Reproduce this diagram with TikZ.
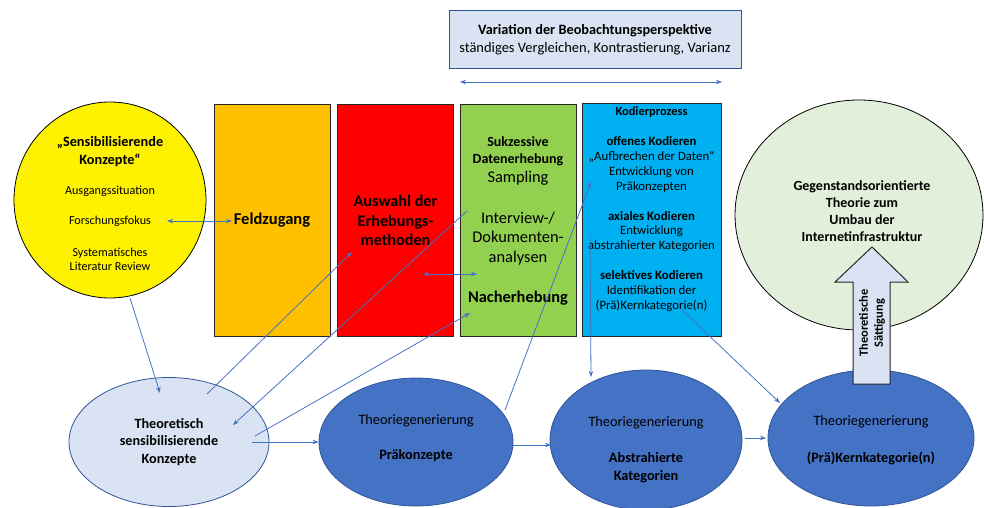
\documentclass[tikz,border=0pt]{standalone}
\usepackage{fontspec}
\setmainfont{Carlito}
\usetikzlibrary{arrows.meta,shapes.geometric,calc}

\definecolor{arrowblue}{HTML}{4472C4}
\definecolor{paleblue}{HTML}{DAE3F3}
\definecolor{darkline}{HTML}{2F5597}
\definecolor{feldorange}{HTML}{FFC000}
\definecolor{auswred}{HTML}{FF0000}
\definecolor{datengreen}{HTML}{92D050}
\definecolor{kodcyan}{HTML}{00B0F0}
\definecolor{palegreen}{HTML}{E2EFDA}
\definecolor{boxline}{HTML}{262626}

\newcommand{\fs}[2]{\fontsize{#1}{#2}\selectfont}

\begin{document}
\begin{tikzpicture}[x=1pt, y=-1pt,
    conn/.style = {draw=arrowblue, line width=0.8pt, -{Stealth[length=6pt,width=4.5pt]}},
    bothconn/.style = {draw=arrowblue, line width=0.8pt, {Stealth[length=6pt,width=4.5pt]}-{Stealth[length=6pt,width=4.5pt]}},
    column/.style = {draw=boxline, line width=1pt, minimum width=116pt, minimum height=231pt, inner sep=0pt, align=center},
    blob/.style = {ellipse, draw=darkline, line width=0.8pt, inner sep=0pt, align=center},
    txt/.style = {inner sep=0pt, align=center}]
        \useasboundingbox(0,0)rectangle(984,508);
        % Beobachtungsperspektive
        \node[draw=darkline, fill=paleblue, minimum width=292pt, minimum height=58pt](vari)at(595,39){};
        \node[txt, font=\fs{14.3}{16}\bfseries](varititle)at(595,30.5){Variation der Beobachtungsperspektive};
        \node[txt, font=\fs{14.5}{16}](varisub)at(595,48.5){ständiges Vergleichen, Kontrastierung, Varianz};
        \coordinate(VL)at(460,82);
        \coordinate(VR)at(722,82);
        \path[bothconn](VL)to(VR);
        % sensibilisierende Konzepte
        \node[blob, draw=black, fill=yellow, minimum width=192pt, minimum height=196pt](sens)at(110,200){};
        \node[txt, font=\fs{14.3}{18}\bfseries](senstitle)at(110,152){„Sensibilisierende\\Konzepte“};
        \node[txt, font=\fs{12.2}{14}](ausgang)at(110,191){Ausgangssituation};
        \node[txt, font=\fs{12.2}{14}](fokus)at(110,221){Forschungsfokus};
        \node[txt, font=\fs{12.2}{14}](review)at(110,259){Systematisches\\Literatur Review};
        % Spalten
        \node[column, fill=feldorange, font=\fs{16.5}{20}\bfseries](feld)at(272,220.5){Feldzugang};
        \node[column, fill=auswred, font=\fs{16.2}{19.5}\bfseries](ausw)at(395.5,220.5){Auswahl der\\Erhebungs-\\methoden};
        \node[column, fill=datengreen](daten)at(518,220.5){};
        \node[txt, font=\fs{14}{17}\bfseries](sukz)at(518,151.5){Sukzessive\\Datenerhebung};
        \node[txt, font=\fs{16.4}{19}](sampling)at(518,178){Sampling};
        \node[txt, font=\fs{16.4}{19.5}](interview)at(518,238.5){Interview-/\\Dokumenten-\\analysen};
        \node[txt, font=\fs{16.4}{19}\bfseries](nach)at(518,298){Nacherhebung};
        \node[column, fill=kodcyan, minimum width=139pt, minimum height=232pt](kod)at(651.5,220){};
        \node[txt, font=\fs{12.4}{14}\bfseries](kodtitle)at(651.5,112){Kodierprozess};
        \node[txt, font=\fs{12.8}{15}](offen)at(651.5,164.5){\textbf{offenes Kodieren}\\„Aufbrechen der Daten“\\Entwicklung von\\Präkonzepten};
        \node[txt, font=\fs{12.8}{14.5}](axial)at(651.5,231.5){\textbf{axiales Kodieren}\\Entwicklung\\abstrahierter Kategorien};
        \node[txt, font=\fs{12.8}{15}](selekt)at(651.5,291){\textbf{selektives Kodieren}\\Identifikation der\\(Prä)Kernkategorie(n)};
        % Theorie
        \node[blob, draw=black, fill=palegreen, minimum width=248pt, minimum height=230pt](theorie)at(859,215){};
        \node[txt, font=\fs{14}{17}\bfseries](theotext)at(862,211.5){Gegenstandsorientierte\\Theorie zum\\Umbau der\\Internetinfrastruktur};
        % untere Reihe
        \node[blob, fill=paleblue, minimum width=200pt, minimum height=129pt, font=\fs{14.2}{17.5}\bfseries](tsk)at(169,442){Theoretisch\\sensibilisierende\\Konzepte};
        \node[blob, fill=arrowblue, minimum width=194pt, minimum height=128pt](prae)at(416,442){};
        \node[txt, font=\fs{14.3}{17}](praegen)at(416,421){Theoriegenerierung};
        \node[txt, font=\fs{14.3}{17}\bfseries](praetext)at(416,456){Präkonzepte};
        \node[blob, fill=arrowblue, minimum width=192pt, minimum height=140pt](abstr)at(646,440){};
        \node[txt, font=\fs{14.3}{17}](abstrgen)at(646,423){Theoriegenerierung};
        \node[txt, font=\fs{14.3}{18}\bfseries](abstrtext)at(646,468){Abstrahierte\\Kategorien};
        \node[blob, fill=arrowblue, minimum width=206pt, minimum height=136pt](kern)at(871,438){};
        \node[txt, font=\fs{14.3}{17}](kerngen)at(871,422){Theoriegenerierung};
        \node[txt, font=\fs{14.3}{17}\bfseries](kerntext)at(871,458){(Prä)Kernkategorie(n)};
        % connectors
        \coordinate(C1)at(167,221);
        \coordinate(C2)at(232,221);
        \path[bothconn](C1)to(C2);
        \coordinate(C3)at(130,298);
        \coordinate(C4)at(160,393);
        \path[conn](C3)to(C4);
        \coordinate(C5)at(207,394);
        \coordinate(C6)at(352,252);
        \path[conn](C5)to(C6);
        \coordinate(C7)at(467,211);
        \coordinate(C8)at(233,425);
        \path[conn](C7)to(C8);
        \coordinate(C9)at(255,436);
        \coordinate(C10)at(470,313);
        \path[conn](C9)to(C10);
        \coordinate(C11)at(252,442);
        \path[conn](C11)to(prae.west);
        \coordinate(C12)at(423,274);
        \coordinate(C13)at(477,274);
        \path[bothconn](C12)to(C13);
        \coordinate(C14)at(505,410);
        \coordinate(C15)at(591,182);
        \path[conn](C14)to(C15);
        \coordinate(C16)at(590,235);
        \coordinate(C17)at(591,377);
        \path[conn](C16)to(C17);
        \coordinate(C18)at(513,445);
        \coordinate(C19)at(551,445);
        \path[conn](C18)to(C19);
        \coordinate(C20)at(682,310);
        \coordinate(C21)at(780,403);
        \path[conn](C20)to(C21);
        \coordinate(C22)at(745,438);
        \coordinate(C23)at(766,438);
        \path[conn](C22)to(C23);
        % Saettigung
        \path[draw=boxline, line width=1pt, fill=paleblue](853,384)--(853,282)--(835,282)--(872,247)--(908,282)--(890,282)--(890,384)--cycle;
        \node[txt, rotate=90, font=\fs{12.5}{15}\bfseries](saett)at(872,323){Theoretische\\Sättigung};
    \end{tikzpicture}
\end{document}
